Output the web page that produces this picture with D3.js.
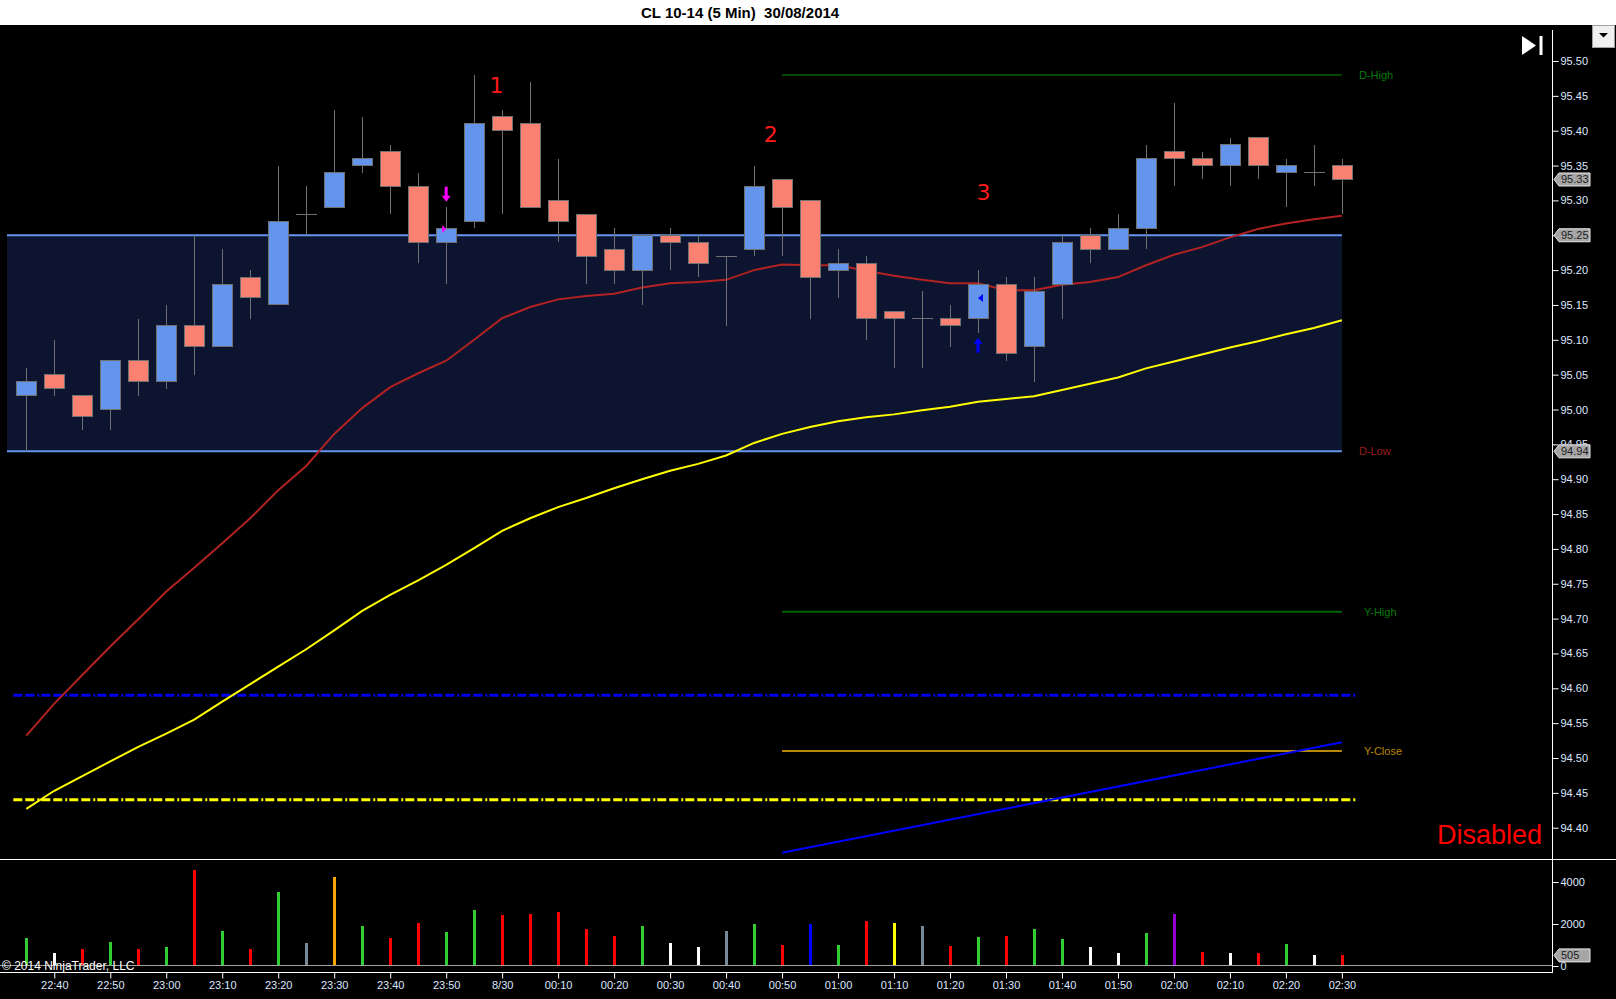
<!DOCTYPE html>
<html>
<head>
<meta charset="utf-8">
<script src="https://cdn.jsdelivr.net/npm/d3@7"></script>
<style>
  body { margin: 0; background: #000; }
  svg { display: block; font-family: "Liberation Sans", Arial, sans-serif; }
</style>
</head>
<body>
<div id="chart"></div>
<script>
// bar times, 5 minute bars
const times = ["22:35","22:40","22:45","22:50","22:55","23:00","23:05","23:10","23:15","23:20","23:25","23:30",
  "23:35","23:40","23:45","23:50","23:55","00:00","00:05","00:10","00:15","00:20","00:25","00:30",
  "00:35","00:40","00:45","00:50","00:55","01:00","01:05","01:10","01:15","01:20","01:25","01:30",
  "01:35","01:40","01:45","01:50","01:55","02:00","02:05","02:10","02:15","02:20","02:25","02:30"];

const open  = [95.02,95.05,95.02,95.00,95.07,95.04,95.12,95.09,95.19,95.15,95.28,95.29,
  95.35,95.37,95.32,95.24,95.27,95.42,95.41,95.30,95.28,95.23,95.20,95.25,
  95.24,95.22,95.23,95.33,95.30,95.20,95.21,95.14,95.13,95.13,95.13,95.18,
  95.09,95.18,95.25,95.23,95.26,95.37,95.36,95.35,95.39,95.34,95.34,95.35];
const high  = [95.06,95.10,95.02,95.07,95.13,95.15,95.25,95.23,95.20,95.35,95.32,95.43,
  95.42,95.38,95.34,95.29,95.48,95.43,95.47,95.36,95.28,95.26,95.25,95.26,
  95.25,95.22,95.35,95.33,95.30,95.23,95.22,95.14,95.17,95.15,95.20,95.19,
  95.19,95.25,95.26,95.28,95.38,95.44,95.37,95.39,95.39,95.36,95.38,95.36];
const low   = [94.94,95.02,94.97,94.97,95.02,95.03,95.05,95.09,95.13,95.15,95.25,95.29,
  95.34,95.28,95.21,95.18,95.26,95.28,95.29,95.24,95.18,95.18,95.15,95.20,
  95.19,95.12,95.22,95.22,95.13,95.16,95.10,95.06,95.06,95.09,95.11,95.07,
  95.04,95.13,95.21,95.23,95.23,95.32,95.33,95.32,95.33,95.29,95.32,95.28];
const close = [95.04,95.03,94.99,95.07,95.04,95.12,95.09,95.18,95.16,95.27,95.28,95.34,
  95.36,95.32,95.24,95.26,95.41,95.40,95.29,95.27,95.22,95.20,95.25,95.24,
  95.21,95.22,95.32,95.29,95.19,95.21,95.13,95.13,95.13,95.12,95.18,95.08,
  95.17,95.24,95.23,95.26,95.36,95.36,95.35,95.38,95.35,95.35,95.34,95.33];

// moving averages
const maRed = [94.532,94.578,94.619,94.660,94.699,94.739,94.773,94.808,94.844,94.884,94.919,94.965,
  95.002,95.032,95.052,95.070,95.100,95.131,95.147,95.158,95.163,95.166,95.175,95.181,
  95.183,95.186,95.200,95.208,95.207,95.207,95.199,95.192,95.186,95.181,95.181,95.171,
  95.171,95.179,95.183,95.190,95.207,95.222,95.233,95.247,95.259,95.267,95.273,95.278];
const maYellow = [94.427,94.453,94.474,94.495,94.516,94.535,94.555,94.581,94.606,94.631,94.656,94.683,
  94.711,94.734,94.755,94.777,94.801,94.826,94.844,94.860,94.873,94.887,94.900,94.912,
  94.922,94.934,94.952,94.965,94.975,94.983,94.989,94.993,94.999,95.004,95.011,95.015,
  95.019,95.028,95.037,95.046,95.059,95.069,95.079,95.089,95.098,95.108,95.117,95.128];

// volume and its colour per bar
const volume = [1333,619,809,1142,809,904,4570,1666,809,3522,1095,4236,
  1904,1333,2047,1618,2666,2428,2475,2570,1761,1428,1904,1095,
  904,1666,2000,1000,2000,1000,2142,2047,1904,952,1380,1428,
  1761,1285,904,619,1571,2475,666,619,619,1047,524,505];
const volColor = ["g","w","r","g","r","g","r","g","r","g","s","o",
  "g","r","r","g","g","r","r","r","r","r","g","w",
  "w","s","g","r","b","g","r","y","s","r","g","r",
  "g","g","w","w","g","p","r","w","r","g","w","r"];
const volPalette = {g:"#32CD32", r:"#FF0000", w:"#FFFFFF", s:"#778899", o:"#FFA500", b:"#0000FF", y:"#FFFF00", p:"#9400D3"};

// axis ticks
const priceTicks = d3.range(0, 23).map(k => +(94.40 + k * 0.05).toFixed(2));
const volTicks = [0, 2000, 4000];
const timeTicks = d3.range(1, 48, 2);

// range box and levels
const rangeBox = {from: -0.69, to: 47, low: 94.94, high: 95.25};
const levels = [
  {label: "D-High", price: 95.48, color: "#006400", labelColor: "#0a7a0a", from: 27, to: 47, dx: 17},
  {label: "Y-High", price: 94.71, color: "#006400", labelColor: "#0a7a0a", from: 27, to: 47, dx: 22},
  {label: "Y-Close", price: 94.51, color: "#B8860B", labelColor: "#B8860B", from: 27, to: 47, dx: 22}
];
const dashLevels = [
  {price: 94.59, color: "#0000EE"},
  {price: 94.44, color: "#FFFF00"}
];
const trendLine = [{bar: 27, price: 94.364}, {bar: 47, price: 94.5225}];
const priceTags = [95.33, 95.25, 94.94];
const notes = [
  {text: "1", bar: 16.8, price: 95.454},
  {text: "2", bar: 26.6, price: 95.384},
  {text: "3", bar: 34.2, price: 95.300}
];

const W = 1616, H = 999;
const axisX = 1552;
const svg = d3.select("#chart").append("svg").attr("width", W).attr("height", H);

svg.append("rect").attr("width", W).attr("height", H).attr("fill", "#000");

// scales
const x = d3.scaleLinear().domain([0, 47]).range([26.3, 1341.9]);
const y = d3.scaleLinear().domain([94.40, 95.50]).range([827.7, 61]);
const yv = d3.scaleLinear().domain([0, 4000]).range([966, 882]);

// title bar
svg.append("rect").attr("width", W).attr("height", 25).attr("fill", "#fff");
svg.append("text").attr("x", 641).attr("y", 17.5)
   .attr("font-weight", "bold").attr("font-size", 15).attr("fill", "#000")
   .style("white-space", "pre").attr("xml:space", "preserve")
   .text("CL 10-14 (5 Min)  30/08/2014");

// range box
svg.append("rect")
   .attr("x", x(rangeBox.from)).attr("width", x(rangeBox.to) - x(rangeBox.from))
   .attr("y", y(rangeBox.high)).attr("height", y(rangeBox.low) - y(rangeBox.high))
   .attr("fill", "#0d1430");
[rangeBox.high, rangeBox.low].forEach(p => {
  svg.append("line").attr("x1", x(rangeBox.from)).attr("x2", x(rangeBox.to))
     .attr("y1", y(p)).attr("y2", y(p)).attr("stroke", "#6495ED").attr("stroke-width", 2);
});
svg.append("text").attr("x", x(47) + 17).attr("y", y(rangeBox.low) + 4)
   .attr("font-size", 11).attr("fill", "#9b1c1c").text("D-Low");

// level lines
levels.forEach(l => {
  svg.append("line").attr("x1", x(l.from)).attr("x2", x(l.to))
     .attr("y1", y(l.price)).attr("y2", y(l.price))
     .attr("stroke", l.color).attr("stroke-width", l.label === "D-High" ? 1.5 : 2);
  svg.append("text").attr("x", x(l.to) + l.dx).attr("y", y(l.price) + 4)
     .attr("font-size", 11).attr("fill", l.labelColor).text(l.label);
});

// dash-dot lines
dashLevels.forEach(d => {
  svg.append("line").attr("x1", x(-0.465)).attr("x2", x(47.5))
     .attr("y1", y(d.price)).attr("y2", y(d.price))
     .attr("stroke", d.color).attr("stroke-width", 3)
     .attr("stroke-dasharray", "9,3,9,3,2,2");
});

// trend line
svg.append("path").datum(trendLine)
   .attr("fill", "none").attr("stroke", "#0000FF").attr("stroke-width", 2)
   .attr("d", d3.line().x(d => x(d.bar)).y(d => y(d.price)));

// moving averages
const maLine = d3.line().x((d, i) => x(i)).y(d => y(d));
svg.append("path").datum(maYellow).attr("fill", "none").attr("stroke", "#FFFF00")
   .attr("stroke-width", 2).attr("d", maLine);
svg.append("path").datum(maRed).attr("fill", "none").attr("stroke", "#B22222")
   .attr("stroke-width", 2).attr("d", maLine);

// candles
const bars = times.map((t, i) => ({i, o: open[i], h: high[i], l: low[i], c: close[i]}));
const cg = svg.append("g").attr("shape-rendering", "crispEdges");
cg.selectAll(".wick").data(bars).enter().append("line")
  .attr("x1", d => Math.round(x(d.i)) + 0.5).attr("x2", d => Math.round(x(d.i)) + 0.5)
  .attr("y1", d => y(d.h)).attr("y2", d => y(d.l))
  .attr("stroke", "#707070").attr("stroke-width", 1);
cg.selectAll(".body").data(bars.filter(d => d.o !== d.c)).enter().append("rect")
  .attr("x", d => Math.round(x(d.i)) - 9.5).attr("width", 20)
  .attr("y", d => y(Math.max(d.o, d.c))).attr("height", d => Math.abs(y(d.o) - y(d.c)))
  .attr("fill", d => d.c > d.o ? "#6495ED" : "#FA8072")
  .attr("stroke", "#707070").attr("stroke-width", 1);
cg.selectAll(".doji").data(bars.filter(d => d.o === d.c)).enter().append("line")
  .attr("x1", d => Math.round(x(d.i)) - 10).attr("x2", d => Math.round(x(d.i)) + 11)
  .attr("y1", d => y(d.o)).attr("y2", d => y(d.o))
  .attr("stroke", "#707070").attr("stroke-width", 1);

// signal arrows
function arrow(cx, tipY, dir, color) {
  // dir = 1 points down, -1 points up
  const L = 15, hw = 4.5, sw = 1.5, hl = 6;
  const b = tipY - dir * L, hb = tipY - dir * hl;
  const pts = [[cx - sw, b], [cx + sw, b], [cx + sw, hb], [cx + hw, hb], [cx, tipY], [cx - hw, hb], [cx - sw, hb]];
  svg.append("path").attr("d", "M" + pts.join("L") + "Z").attr("fill", color);
}
arrow(x(15), y(95.298), 1, "#FF00FF");
arrow(x(34), y(95.103), -1, "#0000FF");
svg.append("path").attr("fill", "#FF00FF")
   .attr("d", `M${x(15) - 4},${y(95.259) - 4}L${x(15)},${y(95.259)}L${x(15) - 4},${y(95.259) + 4}Z`);
svg.append("path").attr("fill", "#0000FF")
   .attr("d", `M${x(34) + 5},${y(95.16) - 4}L${x(34)},${y(95.16)}L${x(34) + 5},${y(95.16) + 4}Z`);

// numbered notes
notes.forEach(n => {
  svg.append("text").attr("x", x(n.bar)).attr("y", y(n.price)).attr("text-anchor", "middle")
     .attr("font-family", "DejaVu Sans, sans-serif").attr("font-size", 22).attr("fill", "#FF1a1a")
     .text(n.text);
});

svg.append("text").attr("x", 1437).attr("y", 844).attr("font-size", 27).attr("fill", "#FF0000").text("Disabled");

// panel separators
svg.append("line").attr("x1", 0).attr("x2", W).attr("y1", 859.5).attr("y2", 859.5).attr("stroke", "#fff");
svg.append("line").attr("x1", 0).attr("x2", axisX).attr("y1", 972.5).attr("y2", 972.5).attr("stroke", "#fff");
svg.append("line").attr("x1", axisX + 0.5).attr("x2", axisX + 0.5).attr("y1", 30).attr("y2", 973).attr("stroke", "#fff");

// volume
svg.append("line").attr("x1", 0).attr("x2", axisX).attr("y1", yv(0) - 0.5).attr("y2", yv(0) - 0.5)
   .attr("stroke", "#a0a0a0");
svg.append("g").attr("shape-rendering", "crispEdges")
   .selectAll("rect").data(volume).enter().append("rect")
   .attr("x", (d, i) => Math.round(x(i)) - 1).attr("width", 3)
   .attr("y", d => yv(d)).attr("height", d => yv(0) - 1 - yv(d))
   .attr("fill", (d, i) => volPalette[volColor[i]]);

svg.append("text").attr("x", 2).attr("y", 970).attr("font-size", 12).attr("fill", "#fff")
   .text("\u00A9 2014 NinjaTrader, LLC");

// axes
const axisColor = "#dfe8ff";
function styleAxis(g) {
  g.select(".domain").remove();
  g.selectAll("line").attr("stroke", "#fff");
  g.selectAll("text").attr("fill", axisColor).attr("font-size", 11)
   .attr("font-family", "Liberation Sans, Arial, sans-serif");
}
svg.append("g").attr("transform", `translate(${axisX + 0.5},0)`)
   .call(d3.axisRight(y).tickValues(priceTicks).tickSize(6).tickPadding(2).tickFormat(d3.format(".2f")))
   .call(styleAxis);
svg.append("g").attr("transform", `translate(${axisX + 0.5},0)`)
   .call(d3.axisRight(yv).tickValues(volTicks).tickSize(6).tickPadding(2).tickFormat(d3.format("d")))
   .call(styleAxis);
svg.append("g").attr("transform", "translate(0,972.5)")
   .call(d3.axisBottom(x).tickValues(timeTicks).tickSize(6).tickPadding(3)
     .tickFormat(i => times[i] === "00:00" ? "8/30" : times[i]))
   .call(styleAxis);

// value tags on the axis
function tag(yy, label) {
  const x0 = axisX + 2;
  svg.append("path")
     .attr("d", `M${x0},${yy}L${x0 + 5},${yy - 6.5}L${x0 + 36},${yy - 6.5}L${x0 + 36},${yy + 6.5}L${x0 + 5},${yy + 6.5}Z`)
     .attr("fill", "#a6a6a6").attr("stroke", "#e6e6e6").attr("stroke-width", 1);
  svg.append("text").attr("x", x0 + 7).attr("y", yy + 4).attr("font-size", 11)
     .attr("fill", "#202020").text(label);
}
priceTags.forEach(p => tag(y(p), p.toFixed(2)));
tag(yv(volume[volume.length - 1]), String(volume[volume.length - 1]));

// top right controls
svg.append("path").attr("d", "M1522,36L1536,45.5L1522,55Z").attr("fill", "#fff");
svg.append("rect").attr("x", 1539.5).attr("y", 36).attr("width", 3).attr("height", 19).attr("fill", "#fff");
svg.append("rect").attr("x", 1592.5).attr("y", 25.5).attr("width", 22).attr("height", 22)
   .attr("fill", "#f0f0f0").attr("stroke", "#a0a0a0");
svg.append("path").attr("d", "M1599,33L1608,33L1603.5,37.5Z").attr("fill", "#000");
</script>
</body>
</html>
